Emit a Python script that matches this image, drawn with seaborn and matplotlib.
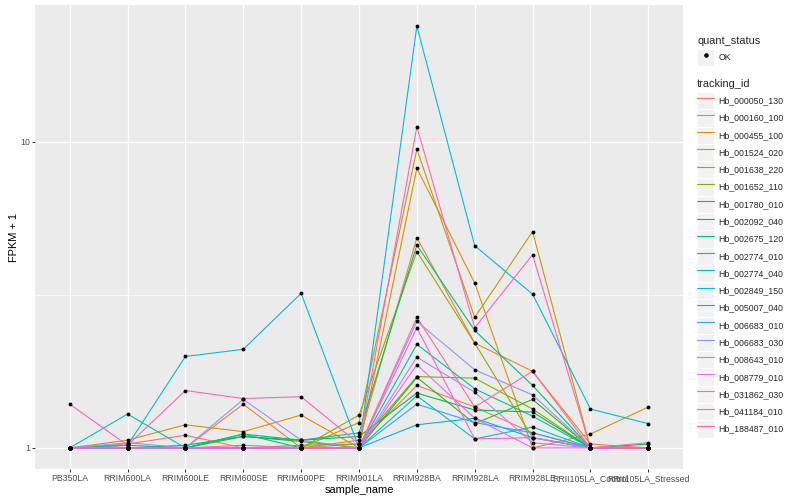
import numpy as np
import pandas as pd
import seaborn as sns
import matplotlib
matplotlib.use('Agg')
import matplotlib.pyplot as plt
from matplotlib.lines import Line2D
from matplotlib.patches import Patch
from matplotlib.legend_handler import HandlerTuple
from matplotlib.ticker import FixedLocator, FixedFormatter, NullFormatter
import matplotlib.colors as mcolors

samples = ['PB350LA', 'RRIM600LA', 'RRIM600LE', 'RRIM600SE', 'RRIM600PE', 'RRIM901LA',
           'RRIM928BA', 'RRIM928LA', 'RRIM928LE', 'RRII105LA_Control', 'RRII105LA_Stressed']

tracking_ids = ['Hb_000050_130', 'Hb_000160_100', 'Hb_000455_100', 'Hb_001524_020', 'Hb_001638_220',
                'Hb_001652_110', 'Hb_001780_010', 'Hb_002092_040', 'Hb_002675_120', 'Hb_002774_010',
                'Hb_002774_040', 'Hb_002849_150', 'Hb_005007_040', 'Hb_006683_010', 'Hb_006683_030',
                'Hb_008643_010', 'Hb_008779_010', 'Hb_031862_030', 'Hb_041184_010', 'Hb_188487_010']

# FPKM + 1, one list per gene, in sample order
hb_000050_130 = [1.0, 1.03, 1.10, 1.0, 1.0, 1.03, 1.60, 1.36, 1.12, 1.0, 1.0]
hb_000160_100 = [1.0, 1.0, 1.0, 1.39, 1.0, 1.06, 4.86, 2.20, 1.78, 1.03, 1.0]
hb_000455_100 = [1.0, 1.06, 1.19, 1.13, 1.28, 1.0, 8.2, 3.46, 1.0, 1.11, 1.36]
hb_001524_020 = [1.0, 1.0, 1.0, 1.0, 1.0, 1.21, 9.46, 2.67, 5.09, 1.0, 1.0]
hb_001638_220 = [1.0, 1.0, 1.0, 1.0, 1.0, 1.28, 4.38, 2.20, 1.08, 1.0, 1.0]
hb_001652_110 = [1.0, 1.0, 1.0, 1.0, 1.02, 1.03, 1.71, 1.69, 1.34, 1.0, 1.0]
hb_001780_010 = [1.0, 1.0, 1.0, 1.09, 1.05, 1.0, 1.70, 1.20, 1.44, 1.0, 1.0]
hb_002092_040 = [1.0, 1.0, 1.02, 1.09, 1.06, 1.09, 1.51, 1.33, 1.31, 1.0, 1.03]
hb_002675_120 = [1.0, 1.0, 1.0, 1.11, 1.06, 1.12, 4.6, 2.42, 1.60, 1.0, 1.0]
hb_002774_010 = [1.0, 1.02, 1.0, 1.11, 1.0, 1.0, 2.18, 1.56, 1.27, 1.0, 1.0]
hb_002774_040 = [1.0, 1.29, 1.0, 1.0, 1.0, 1.0, 1.48, 1.07, 1.17, 1.0, 1.0]
hb_002849_150 = [1.0, 1.02, 1.99, 2.10, 3.2, 1.0, 23.9, 4.58, 3.18, 1.34, 1.2]
hb_005007_040 = [1.0, 1.0, 1.0, 1.0, 1.0, 1.0, 1.19, 1.25, 1.08, 1.0, 1.0]
hb_006683_010 = [1.0, 1.0, 1.0, 1.0, 1.0, 1.0, 1.39, 1.21, 1.12, 1.0, 1.0]
hb_006683_030 = [1.0, 1.04, 1.0, 1.44, 1.06, 1.0, 2.59, 1.80, 1.49, 1.0, 1.0]
hb_008643_010 = [1.0, 1.0, 1.0, 1.0, 1.0, 1.0, 1.98, 1.52, 1.04, 1.0, 1.0]
hb_008779_010 = [1.0, 1.0, 1.0, 1.0, 1.0, 1.0, 1.87, 1.25, 1.0, 1.0, 1.0]
hb_031862_030 = [1.0, 1.0, 1.0, 1.0, 1.0, 1.0, 2.47, 1.07, 1.08, 1.0, 1.04]
hb_041184_010 = [1.39, 1.02, 1.54, 1.45, 1.47, 1.03, 11.2, 2.47, 4.28, 1.0, 1.0]
hb_188487_010 = [1.0, 1.0, 1.0, 1.02, 1.0, 1.0, 2.67, 1.36, 1.78, 1.0, 1.0]

series = [hb_000050_130, hb_000160_100, hb_000455_100, hb_001524_020, hb_001638_220,
          hb_001652_110, hb_001780_010, hb_002092_040, hb_002675_120, hb_002774_010,
          hb_002774_040, hb_002849_150, hb_005007_040, hb_006683_010, hb_006683_030,
          hb_008643_010, hb_008779_010, hb_031862_030, hb_041184_010, hb_188487_010]


def hcl_hex(h, c=100.0, l=65.0):
    # polar LUV -> sRGB, same as R's hcl() used by ggplot's hue scale
    hr = np.deg2rad(h)
    u, v = c * np.cos(hr), c * np.sin(hr)
    Y = ((l + 16) / 116) ** 3
    un, vn = 0.19784, 0.46832
    up = u / (13 * l) + un
    vp = v / (13 * l) + vn
    X = Y * 9 * up / (4 * vp)
    Z = Y * (12 - 3 * up - 20 * vp) / (4 * vp)
    M = np.array([[3.2404542, -1.5371385, -0.4985314],
                  [-0.9692660, 1.8760108, 0.0415560],
                  [0.0556434, -0.2040259, 1.0572252]])
    rgb = M @ np.array([X, Y, Z])
    rgb = np.clip(rgb, 0, 1)
    rgb = np.where(rgb <= 0.0031308, 12.92 * rgb, 1.055 * rgb ** (1 / 2.4) - 0.055)
    return mcolors.to_hex(np.clip(rgb, 0, 1))


hues = [15 + 360 / len(tracking_ids) * i for i in range(len(tracking_ids))]
palette = {tid: hcl_hex(h) for tid, h in zip(tracking_ids, hues)}

rows = []
for tid, vals in zip(tracking_ids, series):
    for i, (s, v) in enumerate(zip(samples, vals)):
        rows.append({'sample_name': s, 'pos': i, 'tracking_id': tid, 'fpkm1': v})
df = pd.DataFrame(rows)

sns.set_theme(style='darkgrid')
plt.rcParams['font.family'] = ['Liberation Sans', 'DejaVu Sans']
plt.rcParams['axes.facecolor'] = '#EBEBEB'
plt.rcParams['grid.color'] = 'white'

W, H = 800, 500
fig = plt.figure(figsize=(W / 72, H / 72), dpi=72)
ax = fig.add_axes([35 / W, 1 - 469 / H, (683 - 35) / W, (469 - 5) / H])

sns.lineplot(data=df, x='pos', y='fpkm1', hue='tracking_id', hue_order=tracking_ids,
             palette=palette, estimator=None, linewidth=1.1, legend=False, ax=ax)
sns.scatterplot(data=df, x='pos', y='fpkm1', color='black', s=15, linewidth=0,
                legend=False, ax=ax, zorder=3)

ax.set_yscale('log')
lo, hi = np.log10(df['fpkm1'].min()), np.log10(df['fpkm1'].max())
pad = 0.05 * (hi - lo)
ax.set_ylim(10 ** (lo - pad), 10 ** (hi + pad))
ax.set_xlim(-0.6, len(samples) - 1 + 0.6)

ax.yaxis.set_major_locator(FixedLocator([1, 10]))
ax.yaxis.set_major_formatter(FixedFormatter(['1', '10']))
ax.yaxis.set_minor_locator(FixedLocator([10 ** 0.5]))
ax.yaxis.set_minor_formatter(NullFormatter())
ax.set_xticks(range(len(samples)))
ax.set_xticklabels(samples)

ax.grid(which='major', color='white', linewidth=1.4)
ax.grid(which='minor', axis='y', color='white', linewidth=0.7)
for sp in ax.spines.values():
    sp.set_visible(False)
ax.tick_params(axis='both', which='major', length=2.75, width=1.0, color='#333333',
               labelsize=8.8, labelcolor='#4D4D4D', pad=2.2, direction='out',
               bottom=True, left=True)
ax.tick_params(axis='y', which='minor', length=0)

ax.set_xlabel('sample_name', fontsize=11, color='black', labelpad=2.0)
ax.set_ylabel('FPKM + 1', fontsize=11, color='black', labelpad=1.5)

# legends in ggplot look: grey key boxes, 17.28 px keys
key_bg = dict(facecolor='#F2F2F2', edgecolor='white', linewidth=1.0)
fs = 8.8
kw = 17.28 / fs
kh = (17.28 / fs - 0.245) / 0.65
common = dict(handler_map={tuple: HandlerTuple(ndivide=1)}, loc='upper left', frameon=False,
              fontsize=fs, title_fontsize=11, handlelength=kw, handleheight=kh,
              handletextpad=0.45, labelspacing=0, borderpad=0, borderaxespad=0, alignment='left')
leg1 = fig.legend(handles=[(Patch(**key_bg),
                            Line2D([], [], marker='o', color='black', linestyle='none', markersize=3.5))],
                  labels=['OK'], title='quant_status', bbox_to_anchor=(697 / W, 1 - 36 / H), **common)
handles = [(Patch(**key_bg), Line2D([], [], color=palette[t], linewidth=1.1)) for t in tracking_ids]
leg2 = fig.legend(handles=handles, labels=tracking_ids, title='tracking_id',
                  bbox_to_anchor=(697 / W, 1 - 79 / H), **common)
for leg in (leg1, leg2):
    leg._legend_box.sep = 3

fig.savefig('out.png', dpi=72)
